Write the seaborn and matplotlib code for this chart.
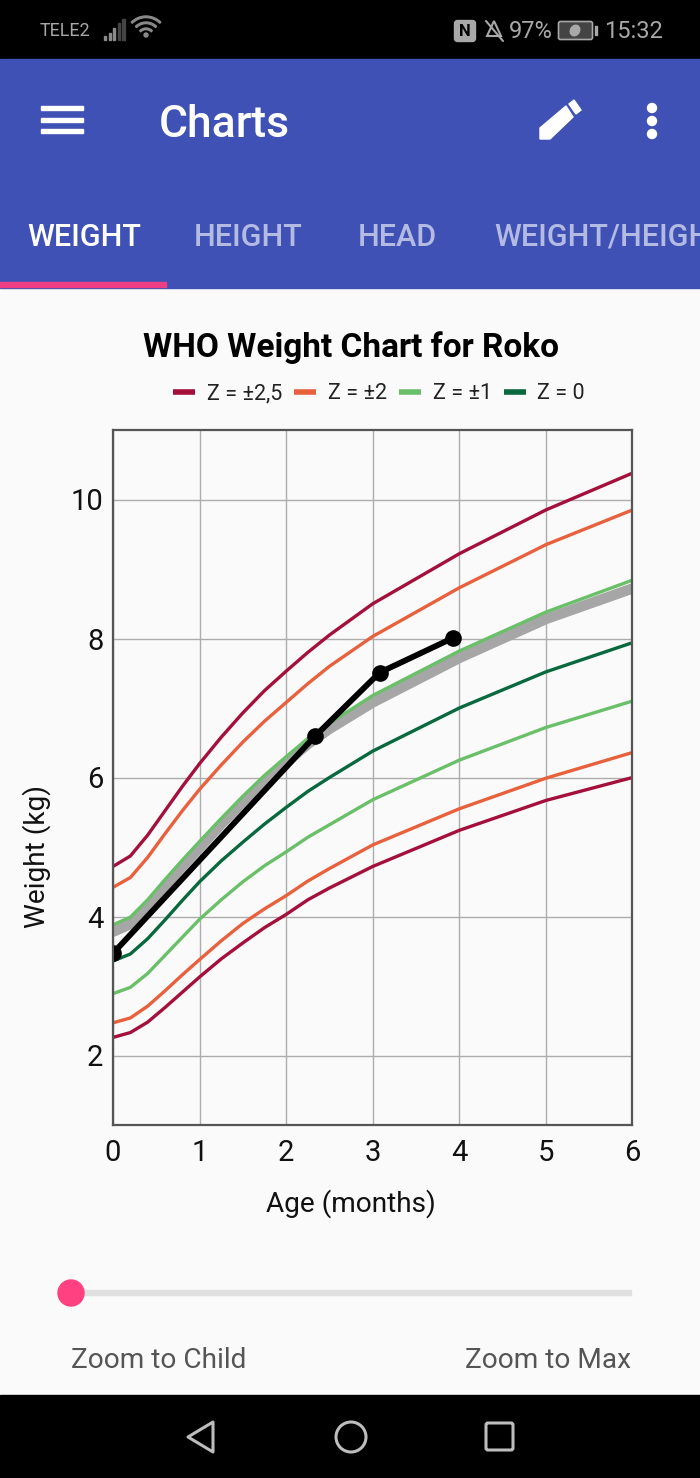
import matplotlib
matplotlib.use("Agg")
import matplotlib.pyplot as plt
from matplotlib.lines import Line2D
from matplotlib.patches import Rectangle, Circle, Polygon, Ellipse, FancyBboxPatch, Wedge
import pandas as pd
import seaborn as sns

age = [0, 0.2, 0.4, 0.6, 0.8, 1, 1.25, 1.5, 1.75, 2, 2.25, 2.5, 3, 4, 5, 6]
z_p25 = [4.72, 4.87, 5.17, 5.52, 5.87, 6.20, 6.58, 6.93, 7.25, 7.53, 7.80, 8.05, 8.50, 9.22, 9.85, 10.38]
z_p2 = [4.42, 4.56, 4.85, 5.19, 5.52, 5.83, 6.18, 6.51, 6.81, 7.08, 7.35, 7.60, 8.03, 8.73, 9.35, 9.85]
z_p1 = [3.88, 3.99, 4.24, 4.53, 4.81, 5.08, 5.41, 5.73, 6.03, 6.30, 6.56, 6.78, 7.18, 7.82, 8.38, 8.84]
z_0 = [3.36, 3.46, 3.68, 3.95, 4.23, 4.50, 4.80, 5.07, 5.33, 5.57, 5.80, 6.00, 6.38, 7.00, 7.52, 7.94]
z_m1 = [2.89, 2.98, 3.18, 3.44, 3.70, 3.96, 4.24, 4.50, 4.73, 4.93, 5.14, 5.32, 5.68, 6.25, 6.72, 7.10]
z_m2 = [2.47, 2.54, 2.71, 2.93, 3.16, 3.38, 3.65, 3.90, 4.11, 4.30, 4.51, 4.69, 5.03, 5.55, 5.99, 6.36]
z_m25 = [2.26, 2.33, 2.48, 2.69, 2.91, 3.13, 3.39, 3.62, 3.84, 4.03, 4.24, 4.41, 4.72, 5.24, 5.67, 6.00]
percentile = [3.78, 3.89, 4.14, 4.44, 4.72, 4.99, 5.33, 5.65, 5.95, 6.22, 6.48, 6.70, 7.08, 7.72, 8.28, 8.72]

child_age = [0, 2.33, 3.08, 3.93]
child_weight = [3.47, 6.59, 7.51, 8.01]

legend_labels = ["Z = ±2,5", "Z = ±2", "Z = ±1", "Z = 0"]
RED = "#a50f3c"
ORANGE = "#e8603c"
GREEN = "#6abf69"
DARK = "#08693e"

sns.set_theme(style="white")
plt.rcParams["font.family"] = ["Roboto", "DejaVu Sans"]

W, H = 700, 1478
fig = plt.figure(figsize=(W / 100, H / 100), dpi=100, facecolor="#fafafa")

# app chrome, in pixel coordinates
bg = fig.add_axes([0, 0, 1, 1], zorder=0)
bg.set_xlim(0, W)
bg.set_ylim(H, 0)
bg.axis("off")

bg.add_patch(Rectangle((0, 0), W, 59, color="black"))
bg.add_patch(Rectangle((0, 59), W, 229, color="#3f51b5"))
bg.add_patch(Rectangle((0, 282), 166, 5, color="#ee3f85"))
bg.add_patch(Rectangle((0, 1395), W, 83, color="black"))

# status bar
grey = "#a8a8a8"
dim = "#8a8a8a"
bg.text(40, 31, "TELE2", color=grey, fontsize=13, va="center")
for i, h in enumerate([4, 7, 12, 17, 21]):
    bg.add_patch(Rectangle((104 + i * 4.6, 40 - h), 2.2, h, color=dim if i < 3 else "#444444"))
for r in [21, 15, 9]:
    bg.add_patch(Wedge((146, 37), r, 225, 315, width=1.6, color=dim))
bg.add_patch(Circle((146, 35), 2, color=dim))
bg.add_patch(FancyBboxPatch((456, 22), 18, 18, boxstyle="round,pad=1.5,rounding_size=3", fc=grey, ec=grey))
bg.text(465, 31, "N", color="black", fontsize=12, ha="center", va="center", fontweight="bold")
bg.add_patch(Polygon([(494, 21), (501, 36), (487, 36)], closed=True, fc="none", ec=grey, lw=1.5))
bg.plot([486, 503], [21, 41], color=grey, lw=1.5)
bg.text(509, 32, "97%", color=grey, fontsize=17, va="center")
bg.add_patch(FancyBboxPatch((559, 22), 33, 17, boxstyle="round,pad=0.5,rounding_size=2", fc="#444444", ec=grey, lw=1.2))
bg.add_patch(Rectangle((595, 26), 2, 9, color=grey))
bg.add_patch(Ellipse((575, 30.5), 9, 11, angle=30, color=grey))
bg.text(604, 32, "15:32", color=grey, fontsize=17, va="center")

# toolbar
for y in [106, 117.5, 129]:
    bg.add_patch(Rectangle((41, y), 42, 4, color="white"))
bg.text(159, 125, "Charts", color="white", fontsize=32, fontweight="medium", va="center")
bg.add_patch(Polygon([(540, 139), (540, 128), (566, 106), (573, 117), (550, 139)], closed=True, color="white"))
bg.add_patch(Polygon([(569, 104), (574, 100), (581, 110), (576, 114)], closed=True, color="white"))
for y in [108, 121, 134]:
    bg.add_patch(Ellipse((652, y), 9, 9, color="white"))

# tabs
bg.text(27, 237, "WEIGHT", color="white", fontsize=22, fontweight="medium", va="center")
tab_color = "#b4bbe3"
bg.text(194, 237, "HEIGHT", color=tab_color, fontsize=22, fontweight="medium", va="center")
bg.text(358, 237, "HEAD", color=tab_color, fontsize=22, fontweight="medium", va="center")
bg.text(494, 237, "WEIGHT/HEIGHT", color=tab_color, fontsize=22, fontweight="medium", va="center")

# slider
bg.add_patch(Rectangle((71, 1290), 560, 4.5, color="#e0e0e0"))
bg.add_patch(Circle((71, 1293), 13, color="#ff4081"))
bg.text(71, 1361, "Zoom to Child", color="#555555", fontsize=20.2, va="center")
bg.text(631, 1361, "Zoom to Max", color="#555555", fontsize=20.2, va="center", ha="right")

# navigation bar
nav = "#bdbdbd"
bg.add_patch(Polygon([(188, 1437), (213, 1422), (213, 1452)], closed=True, fc="none", ec=nav, lw=2.2, joinstyle="round"))
bg.add_patch(Circle((351, 1437), 15, fc="none", ec=nav, lw=2.2))
bg.add_patch(FancyBboxPatch((486, 1423), 27, 27, boxstyle="round,pad=0,rounding_size=2", fc="none", ec=nav, lw=2.2))

# the chart
left, right, top, bottom = 113, 632.5, 430, 1125
ax = fig.add_axes([left / W, 1 - bottom / H, (right - left) / W, (bottom - top) / H], zorder=1)
ax.set_facecolor("#fafafa")

curves = pd.DataFrame({"age": age, "p25": z_p25, "p2": z_p2, "p1": z_p1, "z0": z_0,
                       "m1": z_m1, "m2": z_m2, "m25": z_m25, "child_pct": percentile})

sns.lineplot(data=curves, x="age", y="child_pct", color="#a6a6a6", lw=7.5, ax=ax, errorbar=None)
for col, color in [("p25", RED), ("p2", ORANGE), ("p1", GREEN), ("z0", DARK),
                   ("m1", GREEN), ("m2", ORANGE), ("m25", RED)]:
    sns.lineplot(data=curves, x="age", y=col, color=color, lw=2.4, ax=ax, errorbar=None)

sns.lineplot(x=child_age, y=child_weight, color="black", lw=4.2, marker="o", markersize=12,
             markeredgewidth=0, ax=ax, errorbar=None, zorder=5)

ax.set_xlim(0, 6)
ax.set_ylim(1, 11)
ax.set_xticks([0, 1, 2, 3, 4, 5, 6])
ax.set_yticks([2, 4, 6, 8, 10])
ax.grid(True, color="#adadad", lw=1)
ax.set_axisbelow(True)
ax.tick_params(axis="x", length=0, labelsize=21, labelcolor="#111111", pad=10)
ax.tick_params(axis="y", length=0, labelsize=21, labelcolor="#111111", pad=7)
for s in ax.spines.values():
    s.set_color("#555555")
    s.set_linewidth(1.6)
    s.set_zorder(10)

ax.set_xlabel("")
ax.set_ylabel("")
bg.text(351, 1204, "Age (months)", fontsize=20.2, color="#111111", ha="center", va="center")
bg.text(37, 856, "Weight (kg)", fontsize=20.2, color="#111111", ha="center", va="center", rotation=90)
bg.text(351, 348, "WHO Weight Chart for Roko", fontsize=24, fontweight="bold", color="black", ha="center", va="center")

handles = [Line2D([], [], color=c, lw=4, solid_capstyle="butt") for c in [RED, ORANGE, GREEN, DARK]]
leg = ax.legend(handles, legend_labels, ncol=4, loc="center", bbox_to_anchor=(0.5125, 1.052), frameon=False,
                fontsize=15.5, handlelength=1.02, handletextpad=0.55, columnspacing=0.55, borderpad=0)
for t in leg.get_texts():
    t.set_color("#222222")

fig.savefig("out.png", dpi=100, facecolor=fig.get_facecolor())
plt.close(fig)
